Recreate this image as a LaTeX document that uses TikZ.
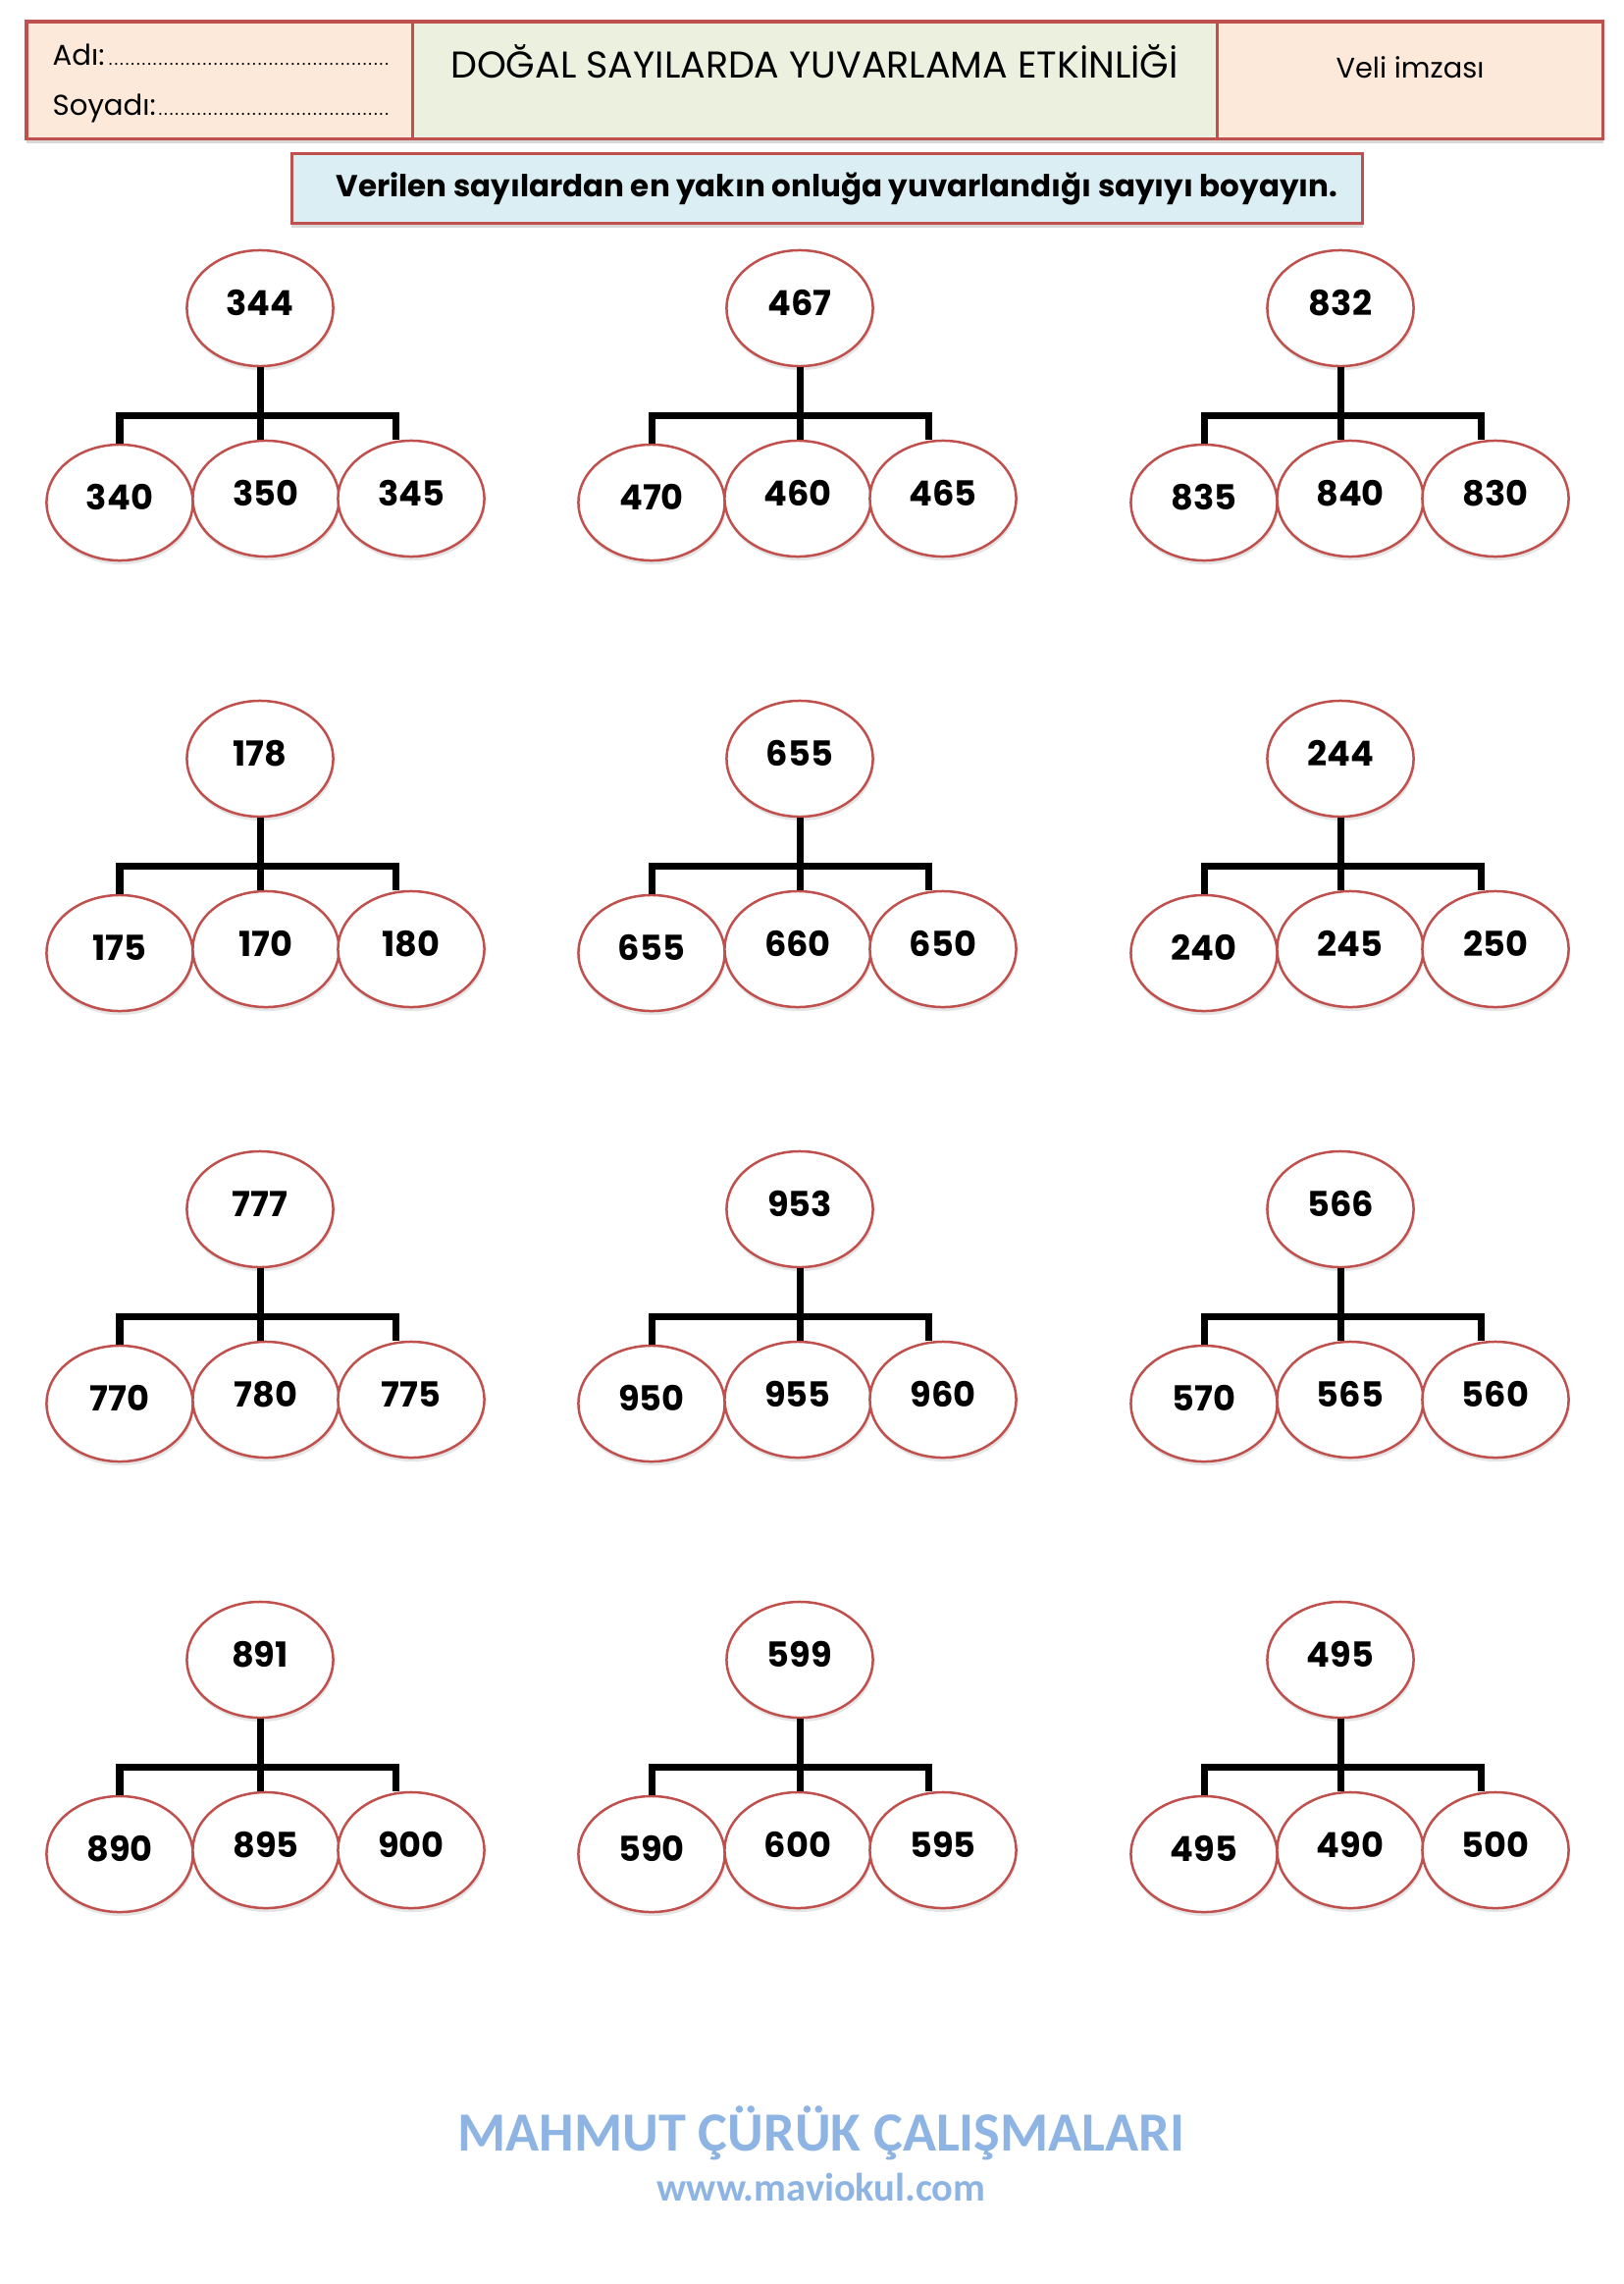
\documentclass[tikz,border=0pt]{standalone}
\usepackage{fontspec}
\setmainfont{Poppins}
\newfontfamily\imzafont{Carlito}
\usetikzlibrary{positioning,calc,shapes.geometric,shadows}
\definecolor{kRed}{RGB}{192,80,77}
\definecolor{kPeach}{RGB}{253,233,217}
\definecolor{kGreen}{RGB}{235,241,222}
\definecolor{kBlue}{RGB}{218,238,243}
\definecolor{kFoot}{RGB}{141,180,226}
\newcommand{\noktali}[1]{\makebox[3.44cm][l]{#1\leaders\hbox to 1.6pt{\hss\tiny.\hss}\hfill}}
\tikzset{
  cell/.style={draw=kRed, line width=0.03cm, minimum height=1.19cm, inner sep=0pt, outer sep=0pt,
    drop shadow={opacity=0.3, shadow xshift=0pt, shadow yshift=-0.05cm}},
  sayi/.style={ellipse, draw=kRed, line width=0.025cm, fill=white, minimum width=1.49cm,
    minimum height=1.18cm, inner sep=0pt, text height=0.25cm, text depth=0.1cm,
    font=\bfseries\fontsize{10}{12}\selectfont,
    drop shadow={opacity=0.2, shadow xshift=0.01cm, shadow yshift=-0.04cm}},
  dal/.style={line width=0.07cm, black},
}
\begin{document}
\begin{tikzpicture}[x=0.01cm, y=-0.01cm]
  \fill[white] (0,0) rectangle (1654,2327);
  \useasboundingbox (0,0) rectangle (1654,2327);
  % Header
  \node[cell, fill=kPeach, minimum width=3.93cm, anchor=north west] (adcell) at (27,22) {};
  \node[cell, fill=kGreen, minimum width=8.20cm, right=0pt of adcell] (titlecell) {};
  \node[cell, fill=kPeach, minimum width=3.93cm, right=0pt of titlecell] (velicell) {};
  \node[anchor=base west, inner sep=0pt, font=\fontsize{8.3}{10}\selectfont] (adi) at (53,66) {\noktali{Adı:}};
  \node[anchor=base west, inner sep=0pt, font=\fontsize{8.3}{10}\selectfont] (soyadi) at (53,117) {\noktali{Soyadı:}};
  \node[anchor=base, font=\fontsize{10.8}{12}\selectfont] (baslik) at (830,79) {DOĞAL SAYILARDA YUVARLAMA ETKİNLİĞİ};
  \node[anchor=base, font=\fontsize{8.2}{10}\selectfont] (veli) at (1437,79) {Veli imzası};
  % Instruction
  \node[cell, fill=kBlue, minimum width=10.91cm, minimum height=0.70cm,
    font=\bfseries\fontsize{8.8}{10}\selectfont] (yonerge) at (843,192)
    {\hspace{0.2cm}Verilen sayılardan en yakın onluğa yuvarlandığı sayıyı boyayın.};
  % Trees
  \foreach \tx/\bx/\ty/\ust/\sol/\orta/\sag [count=\n] in {
      265/271/314/344/340/350/345, 815/813/314/467/470/460/465, 1366/1376/314/832/835/840/830,
      265/271/773/178/175/170/180, 815/813/773/655/655/660/650, 1366/1376/773/244/240/245/250,
      265/271/1232/777/770/780/775, 815/813/1232/953/950/955/960, 1366/1376/1232/566/570/565/560,
      265/271/1691/891/890/895/900, 815/813/1691/599/590/600/595, 1366/1376/1691/495/495/490/500} {
    \node[sayi] (ust\n) at (\tx,\ty) {\ust};
    \node[sayi] (sol\n) at (\bx-149,\ty+198) {\sol};
    \node[sayi] (orta\n) at (\bx,\ty+194) {\orta};
    \node[sayi] (sag\n) at (\bx+148,\ty+194) {\sag};
    \coordinate (dal\n) at ($(ust\n.south)!0.67!(ust\n.south |- orta\n.north)$);
    \draw[dal] (ust\n.south) -- (ust\n.south |- orta\n.north);
    \draw[dal] (sol\n.north) |- (dal\n) -| ([xshift=-0.15cm]sag\n.north);
  }
  % Footer
  \node[font=\imzafont\bfseries\fontsize{16}{18}\selectfont, text=kFoot] (imza) at (837,2173) {MAHMUT ÇÜRÜK ÇALIŞMALARI};
  \node[font=\imzafont\bfseries\fontsize{11.5}{13}\selectfont, text=kFoot] (site) at (837,2228) {www.maviokul.com};
\end{tikzpicture}
\end{document}
